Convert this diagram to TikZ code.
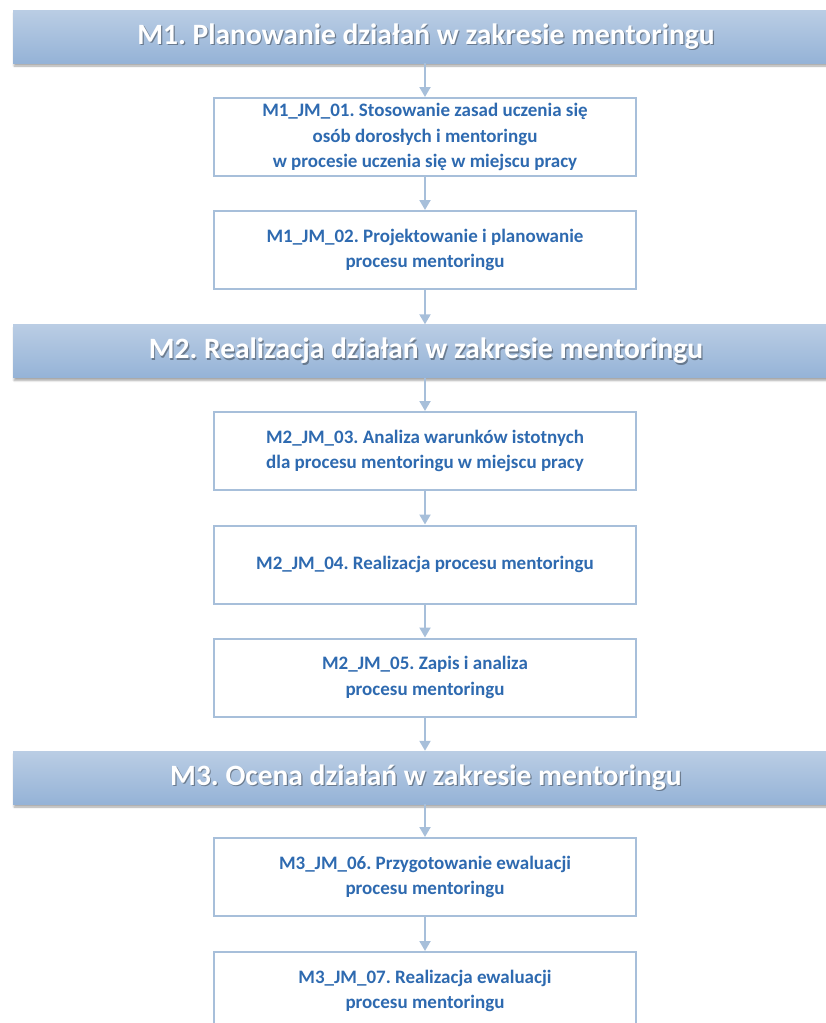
\documentclass[tikz,border=0pt]{standalone}
\usepackage{fontspec}
\setmainfont{Carlito}
\frenchspacing
\usetikzlibrary{arrows.meta,shadows.blur}
\definecolor{txtblue}{RGB}{46,106,176}
\definecolor{edgeblue}{RGB}{167,191,218}
\definecolor{bartop}{RGB}{186,205,228}
\definecolor{barbot}{RGB}{149,179,215}
\begin{document}
\begin{tikzpicture}[x=1pt,y=-1pt,
  box/.style={draw=edgeblue, line width=2pt, fill=white, minimum width=422pt,
    minimum height=78pt, align=center, text=txtblue, inner sep=0pt,
    font=\bfseries\fontsize{19}{25.5}\selectfont},
  bar/.style={minimum width=826pt, minimum height=53pt, inner sep=0pt,
    top color=bartop, bottom color=barbot, draw=none,
    blur shadow={shadow xshift=1pt, shadow yshift=-3pt, shadow blur steps=6, shadow opacity=35}},
  bartext/.style={text=white, inner sep=0pt, font=\bfseries\fontsize{29.5}{33}\selectfont},
  barshadow/.style={text=black, text opacity=0.35, inner sep=0pt, font=\bfseries\fontsize{29.5}{33}\selectfont},
  arr/.style={draw=edgeblue, line width=2pt, -{Triangle[width=11pt,length=10pt]}}]

\useasboundingbox (0,0) rectangle (825,1023);

% header bars
\node[bar] (h1) at (426,36.5) {};
\node[barshadow] (h1s) at (427.2,38) {M1. Planowanie działań w zakresie mentoringu};
\node[bartext] (h1t) at (h1) {M1. Planowanie działań w zakresie mentoringu};

\node[bar] (h2) at (426,351) {};
\node[barshadow] (h2s) at (427.2,352.5) {M2. Realizacja działań w zakresie mentoringu};
\node[bartext] (h2t) at (h2) {M2. Realizacja działań w zakresie mentoringu};

\node[bar] (h3) at (426,777.5) {};
\node[barshadow] (h3s) at (427.2,779) {M3. Ocena działań w zakresie mentoringu};
\node[bartext] (h3t) at (h3) {M3. Ocena działań w zakresie mentoringu};

% boxes
\node[box] (b1) at (425,137) {M1\_JM\_01. Stosowanie zasad uczenia się\\osób dorosłych i mentoringu\\w procesie uczenia się w miejscu pracy};
\node[box] (b2) at (425,250) {M1\_JM\_02. Projektowanie i planowanie\\procesu mentoringu};
\node[box] (b3) at (425,451) {M2\_JM\_03. Analiza warunków istotnych\\dla procesu mentoringu w miejscu pracy};
\node[box] (b4) at (425,564.5) {M2\_JM\_04. Realizacja procesu mentoringu};
\node[box] (b5) at (425,677.5) {M2\_JM\_05. Zapis i analiza\\procesu mentoringu};
\node[box] (b6) at (425,877) {M3\_JM\_06. Przygotowanie ewaluacji\\procesu mentoringu};
\node[box] (b7) at (425,991) {M3\_JM\_07. Realizacja ewaluacji\\procesu mentoringu};

% connectors
\draw[arr] (h1.south -| b1.north) -- (b1.north);
\draw[arr] (b1.south) -- (b2.north);
\draw[arr] (b2.south) -- (h2.north -| b2.south);
\draw[arr] (h2.south -| b3.north) -- (b3.north);
\draw[arr] (b3.south) -- (b4.north);
\draw[arr] (b4.south) -- (b5.north);
\draw[arr] (b5.south) -- (h3.north -| b5.south);
\draw[arr] (h3.south -| b6.north) -- (b6.north);
\draw[arr] (b6.south) -- (b7.north);
\end{tikzpicture}
\end{document}
